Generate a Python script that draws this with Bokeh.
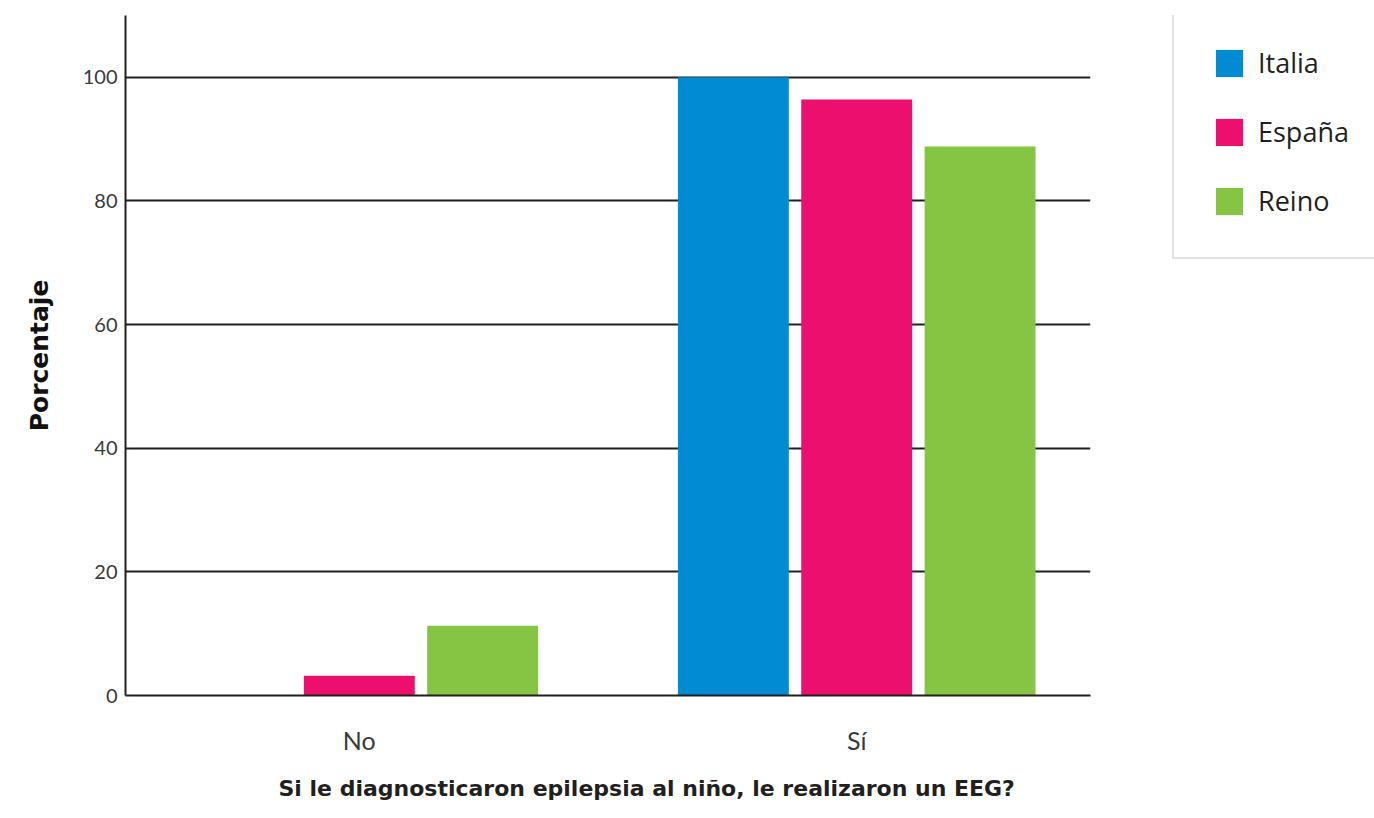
from bokeh.plotting import figure
from bokeh.layouts import row
from bokeh.models import (ColumnDataSource, FactorRange, Range1d, FixedTicker,
                          Legend, LegendItem, Title)
from bokeh.transform import dodge
from bokeh.embed import file_html
from bokeh.resources import INLINE

# ---- data ----
categories = ["No", "Sí"]
series_names = ["Italia", "España", "Reino"]
italia = [0.0, 100.0]
espana = [3.2, 96.4]
reino = [11.3, 88.8]
y_ticks = [0, 20, 40, 60, 80, 100]
colors = ["#008bd2", "#ed0f6e", "#86c443"]

source = ColumnDataSource(data=dict(cat=categories, Italia=italia, España=espana, Reino=reino))

p = figure(width=1172, height=818,
           x_range=FactorRange(*categories, range_padding=-0.03),
           y_range=Range1d(0, 110), output_backend="svg", toolbar_location=None,
           min_border_left=125, min_border_right=82, min_border_top=15,
           min_border_bottom=123)

p.outline_line_color = None
p.background_fill_color = "white"
p.border_fill_color = "white"

offsets = [-0.248, 0.0, 0.248]
for name, off, col in zip(series_names, offsets, colors):
    p.vbar(x=dodge("cat", off, range=p.x_range), top=name, bottom=0, width=0.223,
           source=source, fill_color=col, line_color=None)

# grid
p.xgrid.grid_line_color = None
p.ygrid.ticker = FixedTicker(ticks=y_ticks)
p.ygrid.grid_line_color = "#231f20"
p.ygrid.grid_line_width = 2

# y axis
p.yaxis.ticker = FixedTicker(ticks=y_ticks)
p.yaxis.axis_line_color = "#231f20"
p.yaxis.axis_line_width = 2
p.yaxis.major_tick_line_color = None
p.yaxis.minor_tick_line_color = None
p.yaxis.major_tick_out = 0
p.yaxis.minor_tick_out = 0
p.yaxis.major_label_text_font = "Lato"
p.yaxis.major_label_text_font_size = "20px"
p.yaxis.major_label_text_color = "#3a3a3a"
p.yaxis.major_label_text_baseline = "bottom"
p.yaxis.major_label_standoff = 8
p.yaxis.axis_label = "Porcentaje"
p.yaxis.axis_label_text_font = "DejaVu Sans"
p.yaxis.axis_label_text_font_style = "bold"
p.yaxis.axis_label_text_font_size = "25px"
p.yaxis.axis_label_text_color = "#111111"
p.yaxis.axis_label_standoff = 26

# x axis
p.xaxis.axis_line_color = "#231f20"
p.xaxis.axis_line_width = 2
p.xaxis.major_tick_line_color = None
p.xaxis.minor_tick_line_color = None
p.xaxis.major_tick_out = 0
p.xaxis.minor_tick_out = 0
p.xaxis.major_label_text_font = "Lato"
p.xaxis.major_label_text_font_size = "25px"
p.xaxis.major_label_text_color = "#3a3a3a"
p.xaxis.major_label_standoff = 29

t = Title(text="Si le diagnosticaron epilepsia al niño, le realizaron un EEG?",
          align="left", offset=153, text_font="DejaVu Sans", text_font_style="bold",
          text_font_size="22px", text_color="#231f20", standoff=33)
p.add_layout(t, "below")

# ---- legend panel (separate figure on the right; its bars lie above its view, under the legend box) ----
lg = figure(width=202, height=818, x_range=FactorRange(*categories),
            y_range=Range1d(-210, -200),
            output_backend="svg", toolbar_location=None,
            x_axis_location=None, y_axis_location=None,
            min_border_left=0, min_border_right=0, min_border_top=0, min_border_bottom=0)
lg.outline_line_color = None
lg.xgrid.grid_line_color = None
lg.ygrid.grid_line_color = None
lg.background_fill_color = "white"
lg.border_fill_color = "white"

items = []
for name, off, col in zip(series_names, offsets, colors):
    r = lg.vbar(x=dodge("cat", off, range=lg.x_range), top=name, bottom=0, width=0.223,
                source=source, fill_color=col, line_color=None)
    items.append(LegendItem(label=name, renderers=[r]))

legend = Legend(items=items, location=(0, 436), margin=0, padding=38, spacing=32,
                glyph_width=34, glyph_height=34, label_height=27, label_standoff=12,
                label_width=150,
                label_text_font="Open Sans", label_text_font_size="27px",
                label_text_color="#231f20", border_line_color="#c8c8c8",
                border_line_width=2, background_fill_color="white",
                background_fill_alpha=1.0)
lg.add_layout(legend, "center")

layout = row(p, lg)
open("out.html", "w").write(file_html(layout, INLINE))
